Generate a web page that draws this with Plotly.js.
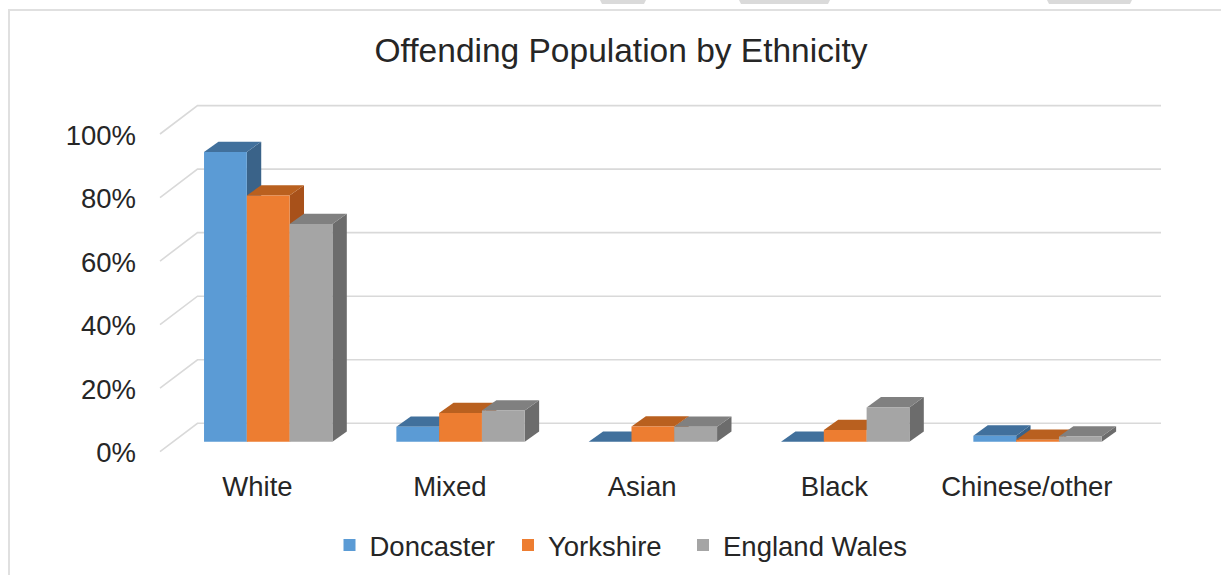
<!DOCTYPE html>
<html>
<head>
<meta charset="utf-8">
<script src="https://cdn.plot.ly/plotly-3.0.1.min.js"></script>
<style>
  html, body { margin: 0; padding: 0; background: #ffffff; }
  #chart { width: 1221px; height: 575px; }
</style>
</head>
<body>
<div id="chart"></div>
<script>
// ---------------- data ----------------
const categories = ['White', 'Mixed', 'Asian', 'Black', 'Chinese/other'];
const seriesNames = ['Doncaster', 'Yorkshire', 'England Wales'];
const doncaster = [0.912, 0.047, 0.0, 0.0, 0.019];
const yorkshire = [0.775, 0.090, 0.048, 0.037, 0.006];
const englandWales = [0.685, 0.098, 0.047, 0.108, 0.016];
const yTickVals = [0, 0.2, 0.4, 0.6, 0.8, 1.0];

// ---------------- styles / geometry ----------------
const W = 1221, H = 575;
const ML = 155, MR = 56, MT = 100, MB = 115;
const PW = W - ML - MR, PH = H - MT - MB;
const X_RANGE = [-0.5329, 4.7184];
const Y_RANGE = [-0.0576, 1.0755];
const pxPerX = PW / (X_RANGE[1] - X_RANGE[0]);
const pxPerY = PH / (Y_RANGE[1] - Y_RANGE[0]);
const BAR_W = 0.2225;
const GROUP_OFF = -0.278;
const DEPTH_DX = 14.4 / pxPerX;
const DEPTH_DY = 10.3 / pxPerY;

const frontColors = ['#5B9BD5', '#ED7D31', '#A5A5A5'];
const topColors = ['#41709C', '#B9601F', '#808080'];
const sideColors = ['#3A6389', '#A8511A', '#6C6C6C'];
const FONT = 'Liberation Sans, Arial, sans-serif';
const TEXT_COLOR = '#262626';
const GRID_COLOR = '#D9D9D9';
const legendIds = ['legend', 'legend2', 'legend3'];
const legendOriginsPx = [329.5, 508, 683];

const series = [doncaster, yorkshire, englandWales];
const idx = categories.map((_, i) => i);

const traces = series.map((vals, j) => ({
  type: 'bar',
  name: seriesNames[j],
  legend: legendIds[j],
  x: idx,
  y: vals,
  width: BAR_W,
  offset: GROUP_OFF + j * BAR_W,
  marker: { color: frontColors[j], line: { width: 0 } },
  hoverinfo: 'skip'
}));

const shapes = [];
const px2paperX = px => (px - ML) / PW;
const px2paperY = py => (H - MB - py) / PH;
// outer chart border (left and top edges visible)
shapes.push({
  type: 'path', xref: 'paper', yref: 'paper', layer: 'below',
  path: `M ${px2paperX(9)},${px2paperY(H + 5)} L ${px2paperX(9)},${px2paperY(10)} L ${px2paperX(W + 5)},${px2paperY(10)}`,
  line: { color: '#E0E0E0', width: 2 }, fillcolor: 'rgba(0,0,0,0)'
});
// faint page fragments above the chart frame
[[600, 646], [739, 830], [1047, 1132]].forEach(([a, b]) => {
  shapes.push({
    type: 'path', xref: 'paper', yref: 'paper', layer: 'below',
    path: `M ${px2paperX(a)},${px2paperY(0)} L ${px2paperX(b)},${px2paperY(0)} L ${px2paperX(b - 2)},${px2paperY(4)} L ${px2paperX(a + 2)},${px2paperY(4)} Z`,
    line: { width: 0 }, fillcolor: '#DADADA'
  });
});
// 3D-style gridlines: side wall diagonal + back wall line
yTickVals.forEach(v => {
  shapes.push({
    type: 'path', layer: 'below',
    xref: 'paper', xsizemode: 'pixel', xanchor: 0,
    yref: 'y', ysizemode: 'pixel', yanchor: v,
    path: 'M 5,-10 L 42.5,18.4 L 1006,18.4',
    line: { color: GRID_COLOR, width: 1.6 }, fillcolor: 'rgba(0,0,0,0)'
  });
});
// bar depth faces (side + top) built from the same data
categories.forEach((c, i) => {
  series.forEach((vals, j) => {
    const v = vals[i];
    const L = i + GROUP_OFF + j * BAR_W;
    const R = L + BAR_W;
    shapes.push({
      type: 'path', xref: 'x', yref: 'y', layer: 'below',
      path: `M ${R},0 L ${R},${v} L ${R + DEPTH_DX},${v + DEPTH_DY} L ${R + DEPTH_DX},${DEPTH_DY} Z`,
      line: { width: 0 }, fillcolor: sideColors[j]
    });
    shapes.push({
      type: 'path', xref: 'x', yref: 'y', layer: 'below',
      path: `M ${L},${v} L ${R},${v} L ${R + DEPTH_DX},${v + DEPTH_DY} L ${L + DEPTH_DX},${v + DEPTH_DY} Z`,
      line: { width: 0 }, fillcolor: topColors[j]
    });
  });
});

const layout = {
  width: W, height: H,
  margin: { l: ML, r: MR, t: MT, b: MB, pad: 0, autoexpand: false },
  paper_bgcolor: '#ffffff', plot_bgcolor: 'rgba(0,0,0,0)',
  font: { family: FONT, color: TEXT_COLOR, size: 27.5 },
  title: {
    text: 'Offending Population by Ethnicity',
    font: { family: FONT, size: 33.5, color: TEXT_COLOR },
    x: 621 / W, xanchor: 'center', xref: 'container',
    y: 1 - 50 / H, yanchor: 'middle', yref: 'container'
  },
  barmode: 'overlay',
  showlegend: true,
  xaxis: {
    type: 'linear', range: X_RANGE,
    tickvals: idx, ticktext: categories,
    showgrid: false, zeroline: false, showline: false, ticks: '',
    ticklabelstandoff: 7,
    tickfont: { family: FONT, size: 27.5, color: TEXT_COLOR },
    fixedrange: true
  },
  yaxis: {
    range: Y_RANGE,
    tickvals: yTickVals, tickformat: '.0%',
    showgrid: false, zeroline: false, showline: false, ticks: '',
    ticklabelshift: 11, ticklabelstandoff: 18,
    tickfont: { family: FONT, size: 27.5, color: TEXT_COLOR },
    fixedrange: true
  },
  shapes: shapes
};
legendIds.forEach((id, j) => {
  layout[id] = {
    orientation: 'h',
    x: px2paperX(legendOriginsPx[j]), xanchor: 'left',
    y: px2paperY(545), yanchor: 'middle',
    font: { family: FONT, size: 27.5, color: TEXT_COLOR },
    itemwidth: 30, bgcolor: 'rgba(0,0,0,0)', borderwidth: 0
  };
});

Plotly.newPlot('chart', traces, layout, { displayModeBar: false, staticPlot: true });
</script>
</body>
</html>
